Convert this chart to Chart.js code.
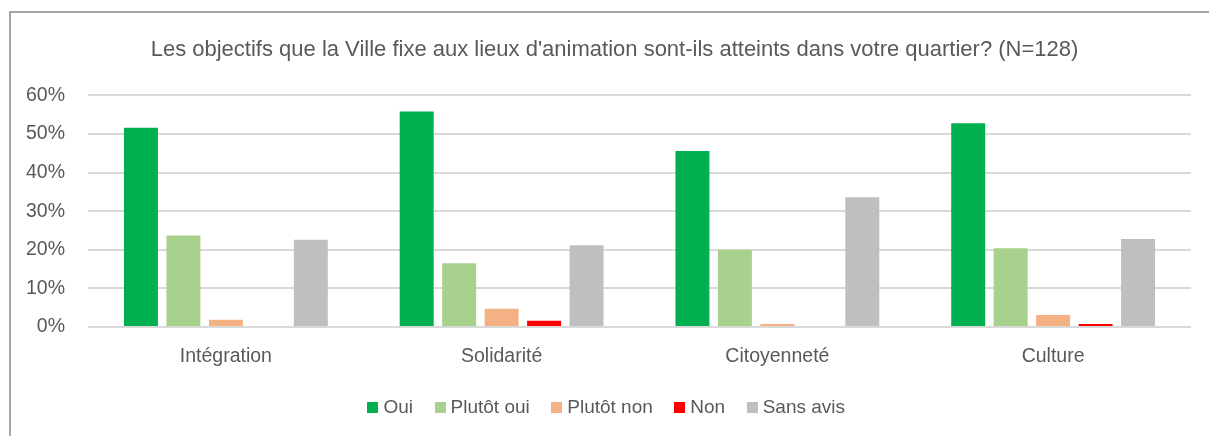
<!DOCTYPE html>
<html>
<head>
<meta charset="utf-8">
<script src="https://cdn.jsdelivr.net/npm/chart.js@4/dist/chart.umd.min.js"></script>
<style>
  html, body { margin: 0; padding: 0; background: #fff; }
  #frame { position: absolute; left: 9px; top: 11px; width: 1300px; height: 500px; border: 2px solid #a6a6a6; }
  #wrap { position: absolute; left: 0; top: 0; width: 1209px; height: 436px; }
</style>
</head>
<body>
<div id="frame"></div>
<div id="wrap"><canvas id="chart" width="1209" height="436"></canvas></div>
<script>
const categories = ['Intégration', 'Solidarité', 'Citoyenneté', 'Culture'];
const oui = [51.6, 55.8, 45.6, 52.8];
const plutotOui = [23.7, 16.5, 20.0, 20.4];
const plutotNon = [1.9, 4.7, 0.8, 3.1];
const non = [0, 1.6, 0, 0.8];
const sansAvis = [22.6, 21.2, 33.6, 22.8];
const yTicks = [0, 10, 20, 30, 40, 50, 60];

const FONT = '"Liberation Sans", Arial, sans-serif';
const TEXT = '#595959';

function series(label, data, color) {
  return { label: label, data: data, backgroundColor: color, borderWidth: 0 };
}

// small square used as legend marker, so the text sits close to it
function swatch(color) {
  const c = document.createElement('canvas');
  c.width = 11;
  c.height = 11;
  const g = c.getContext('2d');
  g.fillStyle = color;
  g.fillRect(0, 0, 11, 11);
  return c;
}

// Excel centres title and legend a bit off the plot area
const shiftBoxes = {
  id: 'shiftBoxes',
  afterLayout: function (chart) {
    if (chart.titleBlock) chart.titleBlock.left = 38;
    if (chart.legend) chart.legend.left = 26;
  }
};

new Chart(document.getElementById('chart'), {
  type: 'bar',
  data: {
    labels: categories,
    datasets: [
      series('Oui', oui, '#00b050'),
      series('Plutôt oui', plutotOui, '#a9d18e'),
      series('Plutôt non', plutotNon, '#f4b183'),
      series('Non', non, '#ff0000'),
      series('Sans avis', sansAvis, '#bfbfbf')
    ]
  },
  plugins: [shiftBoxes],
  options: {
    responsive: false,
    animation: false,
    categoryPercentage: 0.77,
    barPercentage: 0.8,
    layout: { padding: { left: 0, right: 18, top: 0, bottom: 9 } },
    plugins: {
      title: {
        display: true,
        text: "Les objectifs que la Ville fixe aux lieux d'animation sont-ils atteints dans votre quartier? (N=128)",
        color: TEXT,
        font: { family: FONT, size: 22, weight: 'normal' },
        padding: { top: 37, bottom: 32 }
      },
      legend: {
        position: 'bottom',
        labels: {
          color: TEXT,
          font: { family: FONT, size: 19 },
          usePointStyle: true,
          pointStyleWidth: 2,
          padding: 26,
          generateLabels: function (chart) {
            const items = Chart.defaults.plugins.legend.labels.generateLabels(chart);
            items.forEach(it => {
              it.pointStyle = swatch(chart.data.datasets[it.datasetIndex].backgroundColor);
            });
            return items;
          }
        }
      },
      tooltip: { enabled: false }
    },
    scales: {
      x: {
        grid: { display: false, drawTicks: false },
        border: { display: false },
        ticks: { color: TEXT, font: { family: FONT, size: 19.5 }, padding: 18 },
        afterFit: function (scale) { scale.height = 45; }
      },
      y: {
        min: 0,
        max: 60,
        afterBuildTicks: function (scale) { scale.ticks = yTicks.map(v => ({ value: v })); },
        grid: { color: '#d9d9d9', lineWidth: 2, drawTicks: false },
        border: { display: false },
        ticks: {
          color: TEXT,
          font: { family: FONT, size: 19.5 },
          padding: 23,
          callback: v => v + '%'
        },
        afterFit: function (scale) { scale.width = 88; }
      }
    }
  }
});
</script>
</body>
</html>
